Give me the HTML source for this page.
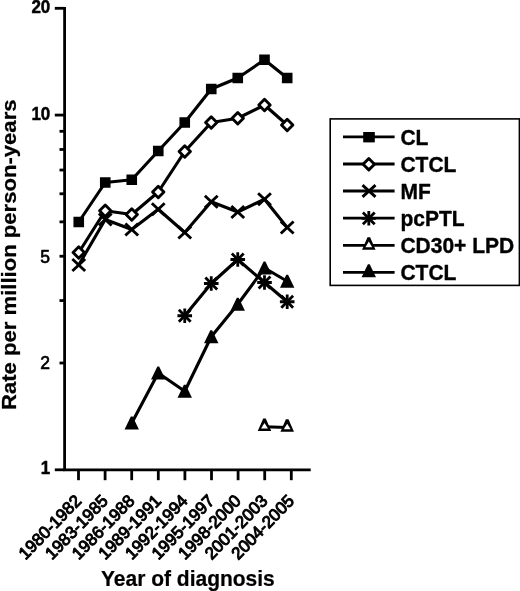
<!DOCTYPE html><html><head><meta charset="utf-8"><title>Figure</title><style>html,body{margin:0;padding:0;background:#fff}svg{display:block}</style></head><body><svg width="520" height="591" viewBox="0 0 520 591" font-family="'Liberation Sans', sans-serif" font-weight="bold" fill="#000">
<rect width="520" height="591" fill="#fff"/>
<path d="M64.60 7V469.80H310.7" fill="none" stroke="#000" stroke-width="2.8" stroke-linejoin="miter"/>
<line x1="54.8" x2="64.60" y1="469.80" y2="469.80" stroke="#000" stroke-width="2.8"/>
<line x1="54.8" x2="64.60" y1="115.08" y2="115.08" stroke="#000" stroke-width="2.8"/>
<line x1="54.8" x2="64.60" y1="8.30" y2="8.30" stroke="#000" stroke-width="2.8"/>
<line x1="59.5" x2="64.60" y1="363.02" y2="363.02" stroke="#000" stroke-width="2.8"/>
<line x1="59.5" x2="64.60" y1="300.56" y2="300.56" stroke="#000" stroke-width="2.8"/>
<line x1="59.5" x2="64.60" y1="256.24" y2="256.24" stroke="#000" stroke-width="2.8"/>
<line x1="59.5" x2="64.60" y1="221.86" y2="221.86" stroke="#000" stroke-width="2.8"/>
<line x1="59.5" x2="64.60" y1="193.78" y2="193.78" stroke="#000" stroke-width="2.8"/>
<line x1="59.5" x2="64.60" y1="170.03" y2="170.03" stroke="#000" stroke-width="2.8"/>
<line x1="59.5" x2="64.60" y1="149.46" y2="149.46" stroke="#000" stroke-width="2.8"/>
<line x1="59.5" x2="64.60" y1="131.31" y2="131.31" stroke="#000" stroke-width="2.8"/>
<line x1="78.50" x2="78.50" y1="469.80" y2="480.2" stroke="#000" stroke-width="2.8"/>
<line x1="105.10" x2="105.10" y1="469.80" y2="480.2" stroke="#000" stroke-width="2.8"/>
<line x1="131.70" x2="131.70" y1="469.80" y2="480.2" stroke="#000" stroke-width="2.8"/>
<line x1="158.30" x2="158.30" y1="469.80" y2="480.2" stroke="#000" stroke-width="2.8"/>
<line x1="184.90" x2="184.90" y1="469.80" y2="480.2" stroke="#000" stroke-width="2.8"/>
<line x1="211.50" x2="211.50" y1="469.80" y2="480.2" stroke="#000" stroke-width="2.8"/>
<line x1="238.10" x2="238.10" y1="469.80" y2="480.2" stroke="#000" stroke-width="2.8"/>
<line x1="264.70" x2="264.70" y1="469.80" y2="480.2" stroke="#000" stroke-width="2.8"/>
<line x1="291.30" x2="291.30" y1="469.80" y2="480.2" stroke="#000" stroke-width="2.8"/>
<g stroke="#000" stroke-width="0.45" stroke-linejoin="round">
<text transform="translate(50.3 473.90) scale(1 1.05)" font-size="17" text-anchor="end">1</text>
<text transform="translate(50.3 119.78) scale(1 1.05)" font-size="17" text-anchor="end">10</text>
<text transform="translate(50.3 13.20) scale(1 1.05)" font-size="17" text-anchor="end">20</text>
</g>
<g stroke="#000" stroke-width="0.65" stroke-linejoin="round" font-weight="normal">
<text transform="translate(50.0 368.72) scale(1 1.05)" font-size="17.5" text-anchor="end">2</text>
<text transform="translate(50.0 262.74) scale(1 1.05)" font-size="17.5" text-anchor="end">5</text>
<text transform="translate(82.30 502.00) scale(1 1.03) rotate(-45)" font-size="16.8" text-anchor="end" stroke-width="1.0">1980-1982</text>
<text transform="translate(108.90 502.00) scale(1 1.03) rotate(-45)" font-size="16.8" text-anchor="end" stroke-width="1.0">1983-1985</text>
<text transform="translate(135.50 502.00) scale(1 1.03) rotate(-45)" font-size="16.8" text-anchor="end" stroke-width="1.0">1986-1988</text>
<text transform="translate(162.10 502.00) scale(1 1.03) rotate(-45)" font-size="16.8" text-anchor="end" stroke-width="1.0">1989-1991</text>
<text transform="translate(188.70 502.00) scale(1 1.03) rotate(-45)" font-size="16.8" text-anchor="end" stroke-width="1.0">1992-1994</text>
<text transform="translate(215.30 502.00) scale(1 1.03) rotate(-45)" font-size="16.8" text-anchor="end" stroke-width="1.0">1995-1997</text>
<text transform="translate(241.90 502.00) scale(1 1.03) rotate(-45)" font-size="16.8" text-anchor="end" stroke-width="1.0">1998-2000</text>
<text transform="translate(268.50 502.00) scale(1 1.03) rotate(-45)" font-size="16.8" text-anchor="end" stroke-width="1.0">2001-2003</text>
<text transform="translate(295.10 502.00) scale(1 1.03) rotate(-45)" font-size="16.8" text-anchor="end" stroke-width="1.0">2004-2005</text>
</g>
<g stroke="#000" stroke-width="0.45" stroke-linejoin="round">
<text transform="translate(15.6 410.0) scale(1 1.052) rotate(-90)" font-size="21" stroke-width="0.25">Rate per million person-years</text>
<text transform="translate(101 586.3) scale(1 1.035)" font-size="21" stroke-width="0.2">Year of diagnosis</text>
</g>
<polyline fill="none" stroke="#000" stroke-width="3.1" stroke-linejoin="round" points="78.75,222.00 105.25,182.50 131.75,179.75 158.25,151.00 184.75,122.50 211.25,89.00 237.75,78.00 264.50,59.75 287.20,78.00"/>
<rect x="73.45" y="216.75" width="10.60" height="10.50" fill="#000"/>
<rect x="99.95" y="177.25" width="10.60" height="10.50" fill="#000"/>
<rect x="126.45" y="174.50" width="10.60" height="10.50" fill="#000"/>
<rect x="152.95" y="145.75" width="10.60" height="10.50" fill="#000"/>
<rect x="179.45" y="117.25" width="10.60" height="10.50" fill="#000"/>
<rect x="205.95" y="83.75" width="10.60" height="10.50" fill="#000"/>
<rect x="232.45" y="72.75" width="10.60" height="10.50" fill="#000"/>
<rect x="259.20" y="54.50" width="10.60" height="10.50" fill="#000"/>
<rect x="281.90" y="72.75" width="10.60" height="10.50" fill="#000"/>
<polyline fill="none" stroke="#000" stroke-width="3.1" stroke-linejoin="round" points="78.75,252.50 105.25,210.75 131.75,214.50 158.25,192.00 184.75,151.50 211.25,122.50 237.75,118.25 264.50,105.00 287.20,125.00"/>
<path d="M78.75 246.80L84.45 252.50L78.75 258.20L73.05 252.50Z" fill="#fff" stroke="#000" stroke-width="2.9" stroke-linejoin="round"/>
<path d="M105.25 205.05L110.95 210.75L105.25 216.45L99.55 210.75Z" fill="#fff" stroke="#000" stroke-width="2.9" stroke-linejoin="round"/>
<path d="M131.75 208.80L137.45 214.50L131.75 220.20L126.05 214.50Z" fill="#fff" stroke="#000" stroke-width="2.9" stroke-linejoin="round"/>
<path d="M158.25 186.30L163.95 192.00L158.25 197.70L152.55 192.00Z" fill="#fff" stroke="#000" stroke-width="2.9" stroke-linejoin="round"/>
<path d="M184.75 145.80L190.45 151.50L184.75 157.20L179.05 151.50Z" fill="#fff" stroke="#000" stroke-width="2.9" stroke-linejoin="round"/>
<path d="M211.25 116.80L216.95 122.50L211.25 128.20L205.55 122.50Z" fill="#fff" stroke="#000" stroke-width="2.9" stroke-linejoin="round"/>
<path d="M237.75 112.55L243.45 118.25L237.75 123.95L232.05 118.25Z" fill="#fff" stroke="#000" stroke-width="2.9" stroke-linejoin="round"/>
<path d="M264.50 99.30L270.20 105.00L264.50 110.70L258.80 105.00Z" fill="#fff" stroke="#000" stroke-width="2.9" stroke-linejoin="round"/>
<path d="M287.20 119.30L292.90 125.00L287.20 130.70L281.50 125.00Z" fill="#fff" stroke="#000" stroke-width="2.9" stroke-linejoin="round"/>
<polyline fill="none" stroke="#000" stroke-width="3.1" stroke-linejoin="round" points="78.75,265.00 105.25,219.50 131.75,229.50 158.25,209.25 184.75,232.50 211.25,201.75 237.75,212.00 264.50,199.25 287.20,227.50"/>
<path d="M72.35 259.00L85.15 271.00M72.35 271.00L85.15 259.00" fill="none" stroke="#000" stroke-width="2.9"/>
<path d="M98.85 213.50L111.65 225.50M98.85 225.50L111.65 213.50" fill="none" stroke="#000" stroke-width="2.9"/>
<path d="M125.35 223.50L138.15 235.50M125.35 235.50L138.15 223.50" fill="none" stroke="#000" stroke-width="2.9"/>
<path d="M151.85 203.25L164.65 215.25M151.85 215.25L164.65 203.25" fill="none" stroke="#000" stroke-width="2.9"/>
<path d="M178.35 226.50L191.15 238.50M178.35 238.50L191.15 226.50" fill="none" stroke="#000" stroke-width="2.9"/>
<path d="M204.85 195.75L217.65 207.75M204.85 207.75L217.65 195.75" fill="none" stroke="#000" stroke-width="2.9"/>
<path d="M231.35 206.00L244.15 218.00M231.35 218.00L244.15 206.00" fill="none" stroke="#000" stroke-width="2.9"/>
<path d="M258.10 193.25L270.90 205.25M258.10 205.25L270.90 193.25" fill="none" stroke="#000" stroke-width="2.9"/>
<path d="M280.80 221.50L293.60 233.50M280.80 233.50L293.60 221.50" fill="none" stroke="#000" stroke-width="2.9"/>
<polyline fill="none" stroke="#000" stroke-width="3.1" stroke-linejoin="round" points="184.75,315.75 211.25,283.50 237.75,259.50 264.50,282.50 287.20,301.75"/>
<path d="M178.85 309.85L190.65 321.65M178.85 321.65L190.65 309.85" fill="none" stroke="#000" stroke-width="2.8"/><path d="M184.75 308.45L184.75 323.05M177.45 315.75L192.05 315.75" fill="none" stroke="#000" stroke-width="2.8"/>
<path d="M205.35 277.60L217.15 289.40M205.35 289.40L217.15 277.60" fill="none" stroke="#000" stroke-width="2.8"/><path d="M211.25 276.20L211.25 290.80M203.95 283.50L218.55 283.50" fill="none" stroke="#000" stroke-width="2.8"/>
<path d="M231.85 253.60L243.65 265.40M231.85 265.40L243.65 253.60" fill="none" stroke="#000" stroke-width="2.8"/><path d="M237.75 252.20L237.75 266.80M230.45 259.50L245.05 259.50" fill="none" stroke="#000" stroke-width="2.8"/>
<path d="M258.60 276.60L270.40 288.40M258.60 288.40L270.40 276.60" fill="none" stroke="#000" stroke-width="2.8"/><path d="M264.50 275.20L264.50 289.80M257.20 282.50L271.80 282.50" fill="none" stroke="#000" stroke-width="2.8"/>
<path d="M281.30 295.85L293.10 307.65M281.30 307.65L293.10 295.85" fill="none" stroke="#000" stroke-width="2.8"/><path d="M287.20 294.45L287.20 309.05M279.90 301.75L294.50 301.75" fill="none" stroke="#000" stroke-width="2.8"/>
<polyline fill="none" stroke="#000" stroke-width="2.9" stroke-linejoin="round" points="264.50,426.70 287.20,427.50"/>
<path d="M263.20 418.50L265.80 418.50L271.25 431.00L257.75 431.00Z" fill="#000"/><path d="M264.50 422.90L267.90 428.50L261.10 428.50Z" fill="#fff"/>
<path d="M285.90 419.30L288.50 419.30L293.95 431.80L280.45 431.80Z" fill="#000"/><path d="M287.20 423.70L290.60 429.30L283.80 429.30Z" fill="#fff"/>
<polyline fill="none" stroke="#000" stroke-width="3.1" stroke-linejoin="round" points="131.75,423.00 158.25,373.00 184.75,391.25 211.25,336.75 237.75,304.25 264.50,268.00 287.20,281.25"/>
<path d="M130.85 416.50L132.65 416.50L138.95 429.50L124.55 429.50Z" fill="#000"/>
<path d="M157.35 366.50L159.15 366.50L165.45 379.50L151.05 379.50Z" fill="#000"/>
<path d="M183.85 384.75L185.65 384.75L191.95 397.75L177.55 397.75Z" fill="#000"/>
<path d="M210.35 330.25L212.15 330.25L218.45 343.25L204.05 343.25Z" fill="#000"/>
<path d="M236.85 297.75L238.65 297.75L244.95 310.75L230.55 310.75Z" fill="#000"/>
<path d="M263.60 261.50L265.40 261.50L271.70 274.50L257.30 274.50Z" fill="#000"/>
<path d="M286.30 274.75L288.10 274.75L294.40 287.75L280.00 287.75Z" fill="#000"/>
<rect x="330.2" y="118.9" width="189.2" height="166.5" fill="#fff" stroke="#000" stroke-width="1.6"/>
<line x1="343" x2="394.6" y1="136.90" y2="136.90" stroke="#000" stroke-width="2.8"/>
<rect x="363.20" y="132.00" width="11.60" height="10.40" fill="#000"/>
<line x1="343" x2="394.6" y1="164.00" y2="164.00" stroke="#000" stroke-width="2.8"/>
<path d="M368.80 158.50L374.50 164.20L368.80 169.90L363.10 164.20Z" fill="#fff" stroke="#000" stroke-width="2.9" stroke-linejoin="round"/>
<line x1="343" x2="394.6" y1="191.00" y2="191.00" stroke="#000" stroke-width="2.8"/>
<path d="M362.50 185.20L375.50 196.80M362.50 196.80L375.50 185.20" fill="none" stroke="#000" stroke-width="2.9"/>
<line x1="343" x2="394.6" y1="218.10" y2="218.10" stroke="#000" stroke-width="2.8"/>
<path d="M362.90 212.40L374.70 224.20M362.90 224.20L374.70 212.40" fill="none" stroke="#000" stroke-width="2.8"/><path d="M368.80 211.00L368.80 225.60M361.50 218.30L376.10 218.30" fill="none" stroke="#000" stroke-width="2.8"/>
<line x1="343" x2="394.6" y1="245.40" y2="245.40" stroke="#000" stroke-width="2.8"/>
<path d="M367.50 237.20L370.10 237.20L375.55 249.70L362.05 249.70Z" fill="#000"/><path d="M368.80 241.60L372.20 247.20L365.40 247.20Z" fill="#fff"/>
<line x1="343" x2="394.6" y1="272.30" y2="272.30" stroke="#000" stroke-width="2.8"/>
<path d="M367.90 264.15L369.70 264.15L376.00 277.15L361.60 277.15Z" fill="#000"/>
<g stroke="#000" stroke-width="0.35" stroke-linejoin="round">
<text transform="translate(400.4 144.60) scale(1 1.075)" font-size="21">CL</text>
<text transform="translate(400.4 171.70) scale(1 1.075)" font-size="21">CTCL</text>
<text transform="translate(400.4 198.70) scale(1 1.075)" font-size="21">MF</text>
<text transform="translate(400.4 225.80) scale(1 1.075)" font-size="21">pcPTL</text>
<text transform="translate(400.4 253.10) scale(1 1.075)" font-size="21">CD30+ LPD</text>
<text transform="translate(400.4 280.00) scale(1 1.075)" font-size="21">CTCL</text>
</g>
</svg></body></html>
